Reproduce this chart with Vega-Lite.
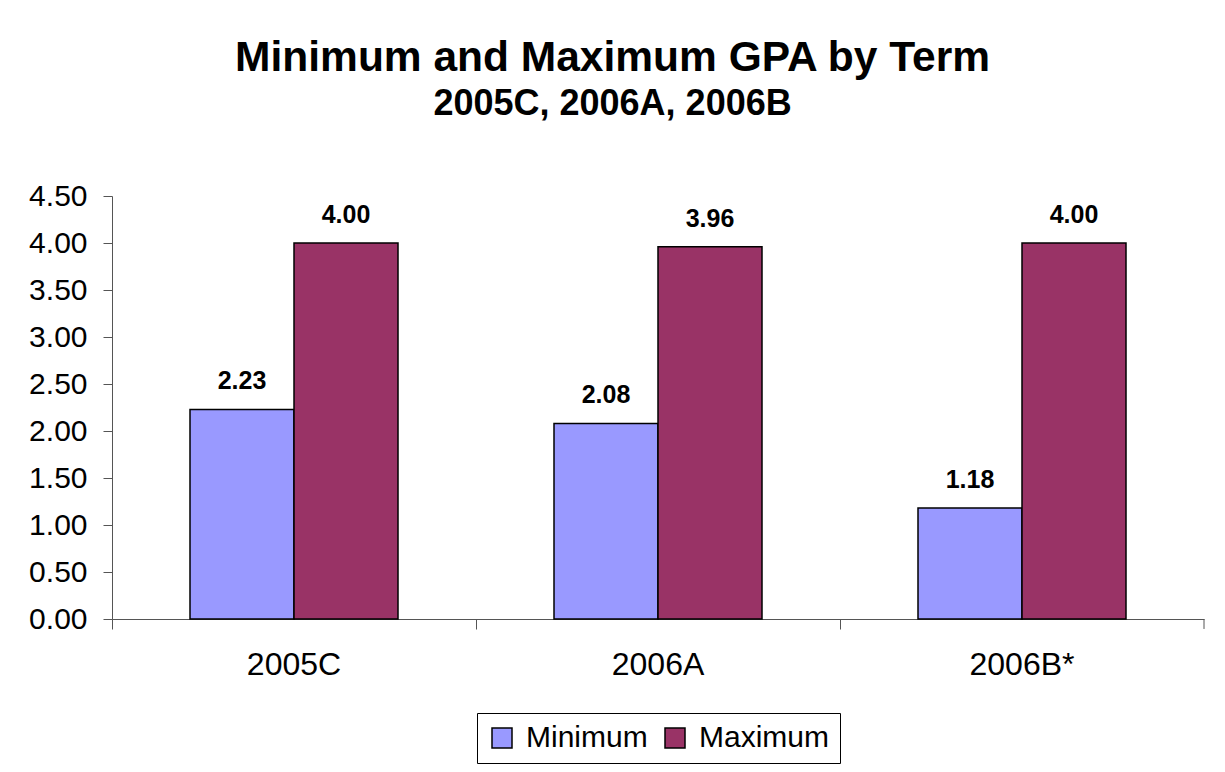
{
  "$schema": "https://vega.github.io/schema/vega-lite/v6.json",
  "width": 1092,
  "height": 423,
  "autosize": {"type": "none"},
  "padding": {"left": 112, "top": 196, "right": 21, "bottom": 153},
  "background": "white",
  "title": {
    "text": "Minimum and Maximum GPA by Term",
    "subtitle": "2005C, 2006A, 2006B",
    "fontSize": 42.5,
    "subtitleFontSize": 36,
    "fontWeight": "bold",
    "subtitleFontWeight": "bold",
    "font": "Liberation Sans",
    "subtitleFont": "Liberation Sans",
    "color": "black",
    "subtitleColor": "black",
    "subtitlePadding": 8,
    "offset": 59,
    "dx": -4,
    "anchor": "middle",
    "frame": "bounds"
  },
  "data": {
    "values": [
      {"term": "2005C", "measure": "Minimum", "gpa": 2.23},
      {"term": "2005C", "measure": "Maximum", "gpa": 4.00},
      {"term": "2006A", "measure": "Minimum", "gpa": 2.08},
      {"term": "2006A", "measure": "Maximum", "gpa": 3.96},
      {"term": "2006B*", "measure": "Minimum", "gpa": 1.18},
      {"term": "2006B*", "measure": "Maximum", "gpa": 4.00}
    ]
  },
  "layer": [
    {
      "mark": {"type": "bar", "stroke": "black", "strokeWidth": 1.5},
      "encoding": {
        "x": {
          "field": "term", "type": "nominal",
          "sort": ["2005C", "2006A", "2006B*"],
          "scale": {"paddingInner": 0, "paddingOuter": 0},
          "axis": {
            "title": null, "labelAngle": 0, "bandPosition": 0,
            "labelFontSize": 32, "labelFont": "Liberation Sans", "labelColor": "black",
            "labelPadding": 20, "tickSize": 10,
            "domainColor": "#555", "tickColor": "#555", "grid": false
          }
        },
        "xOffset": {
          "field": "measure", "type": "nominal",
          "sort": ["Minimum", "Maximum"],
          "scale": {"paddingInner": 0, "paddingOuter": 0.75}
        },
        "y": {
          "field": "gpa", "type": "quantitative",
          "scale": {"domain": [0, 4.5]},
          "axis": {
            "title": null, "values": [0, 0.5, 1, 1.5, 2, 2.5, 3, 3.5, 4, 4.5],
            "format": ".2f", "labelFontSize": 30, "labelFont": "Liberation Sans",
            "labelColor": "black", "labelPadding": 16, "tickSize": 9,
            "domainColor": "#555", "tickColor": "#555", "grid": false
          }
        },
        "color": {
          "field": "measure", "type": "nominal",
          "scale": {"domain": ["Minimum", "Maximum"], "range": ["#9999FF", "#993366"]},
          "legend": {
            "orient": "none", "legendX": 365, "legendY": 517,
            "direction": "horizontal", "title": null,
            "symbolType": "square", "symbolSize": 400,
            "symbolStrokeColor": "black", "symbolStrokeWidth": 1.5,
            "labelFontSize": 30, "labelFont": "Liberation Sans", "labelColor": "black",
            "labelOffset": 9, "columnPadding": 12, "padding": 10,
            "strokeColor": "black", "fillColor": "white"
          }
        }
      }
    },
    {
      "mark": {"type": "text", "fontWeight": "bold", "fontSize": 25, "font": "Liberation Sans", "baseline": "alphabetic", "dy": -20, "color": "black"},
      "encoding": {
        "x": {"field": "term", "type": "nominal", "sort": ["2005C", "2006A", "2006B*"]},
        "xOffset": {"field": "measure", "type": "nominal", "sort": ["Minimum", "Maximum"]},
        "y": {"field": "gpa", "type": "quantitative"},
        "text": {"field": "gpa", "type": "quantitative", "format": ".2f"}
      }
    },
    {
      "data": {"values": [{"term": "2006B*"}]},
      "mark": {"type": "rule", "color": "#555"},
      "encoding": {
        "x": {"field": "term", "type": "nominal", "bandPosition": 1},
        "y": {"datum": 0},
        "y2": {"datum": -0.106}
      }
    }
  ],
  "config": {"view": {"stroke": null}}
}
